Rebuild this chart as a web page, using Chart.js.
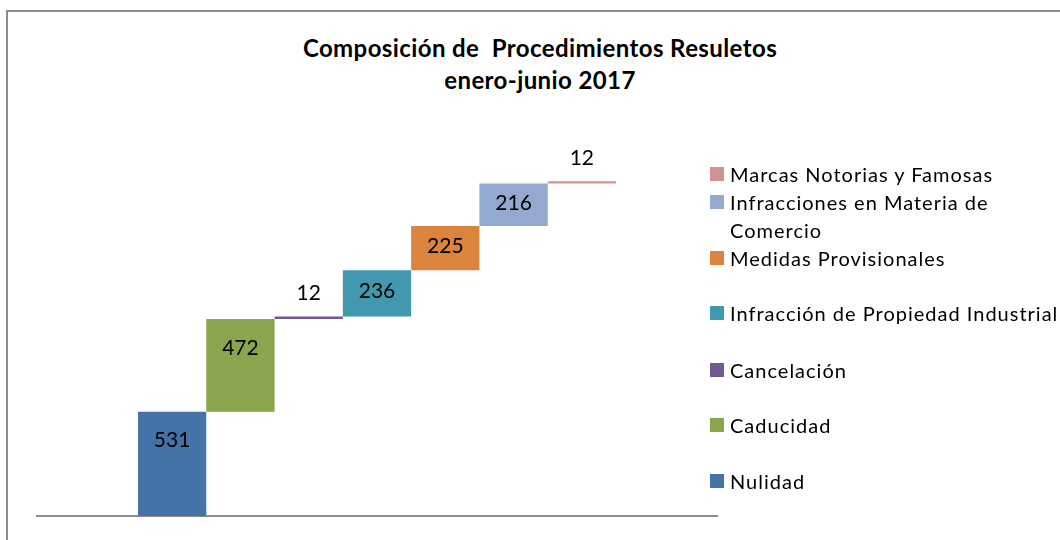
<!DOCTYPE html>
<html>
<head>
<meta charset="utf-8">
<script src="https://cdn.jsdelivr.net/npm/chart.js@4.4.1/dist/chart.umd.min.js"></script>
<style>
  html, body { margin: 0; padding: 0; background: #fff; }
  #wrap { position: relative; width: 1060px; height: 540px; overflow: hidden; font-family: Lato, "Open Sans", sans-serif; }
  #frame { position: absolute; left: 6px; top: 10px; width: 1100px; height: 600px; border: 2px solid #8c8c8c; box-sizing: border-box; }
  #title { position: absolute; left: 10px; width: 1060px; top: 32px; text-align: center; font-weight: bold; font-size: 24px; letter-spacing: 0.4px; line-height: 32px; color: #000; }
  canvas { position: absolute; left: 0; top: 0; }
  .lg { position: absolute; left: 710px; font-size: 20px; letter-spacing: 1px; color: #000; line-height: 28px; }
  .lg .sw { position: absolute; left: 0; top: 7px; width: 14px; height: 14px; }
  .lg .tx { position: absolute; left: 20px; top: 0; white-space: nowrap; }
</style>
</head>
<body>
<div id="wrap">
  <div id="frame"></div>
  <div id="title">Composición de&nbsp; Procedimientos Resuletos<br>enero-junio 2017</div>
  <canvas id="c" width="1060" height="540"></canvas>
</div>
<script>
const categories = ["Nulidad", "Caducidad", "Cancelación", "Infracción de Propiedad Industrial", "Medidas Provisionales", "Infracciones en Materia de Comercio", "Marcas Notorias y Famosas"];
const values = [531, 472, 12, 236, 225, 216, 12];
const colors = ["#4572A7", "#89A54E", "#71588F", "#4198AF", "#DB843D", "#93A9CF", "#D19392"];
const legendLines = [["Nulidad"], ["Caducidad"], ["Cancelación"], ["Infracción de Propiedad Industrial"], ["Medidas Provisionales"], ["Infracciones en Materia de", "Comercio"], ["Marcas Notorias y Famosas"]];
const legendTop = [467, 411, 356, 299, 244, 188, 160];

let running = 0;
const datasets = categories.map((name, i) => {
  const start = running;
  running += values[i];
  return { label: name, data: [[start, running]], backgroundColor: colors[i], borderWidth: 0 };
});

const labelPlugin = {
  id: 'vlabels',
  afterDatasetsDraw(chart) {
    const ctx = chart.ctx;
    ctx.save();
    ctx.font = '21px Lato, "Open Sans", sans-serif';
    ctx.fillStyle = '#000';
    ctx.textAlign = 'center';
    ctx.textBaseline = 'middle';
    chart.data.datasets.forEach((ds, i) => {
      const el = chart.getDatasetMeta(i).data[0];
      const top = Math.min(el.y, el.base);
      const h = Math.abs(el.base - el.y);
      let y;
      if (h < 12) y = top - 23;
      else y = top + Math.min(h / 2 - 2, 29);
      ctx.fillText(String(values[i]), el.x, y);
    });
    ctx.restore();
  }
};

new Chart(document.getElementById('c'), {
  type: 'bar',
  data: { labels: [""], datasets },
  options: {
    responsive: false,
    animation: false,
    layout: { padding: { left: 37, right: 343, top: 123, bottom: 16 } },
    plugins: { legend: { display: false }, tooltip: { enabled: false }, title: { display: false } },
    datasets: { bar: { categoryPercentage: 0.703, barPercentage: 1.0 } },
    scales: {
      x: { display: true, grid: { display: false }, ticks: { display: false }, border: { display: true, color: '#8c8c8c', width: 2 } },
      y: { display: false, min: 0, max: 2000 }
    }
  },
  plugins: [labelPlugin]
});

const wrap = document.getElementById('wrap');
categories.forEach((name, i) => {
  const d = document.createElement('div');
  d.className = 'lg';
  d.style.top = legendTop[i] + 'px';
  const sw = document.createElement('div');
  sw.className = 'sw';
  sw.style.background = colors[i];
  const tx = document.createElement('div');
  tx.className = 'tx';
  tx.innerHTML = legendLines[i].join('<br>');
  d.appendChild(sw);
  d.appendChild(tx);
  wrap.appendChild(d);
});
</script>
</body>
</html>
